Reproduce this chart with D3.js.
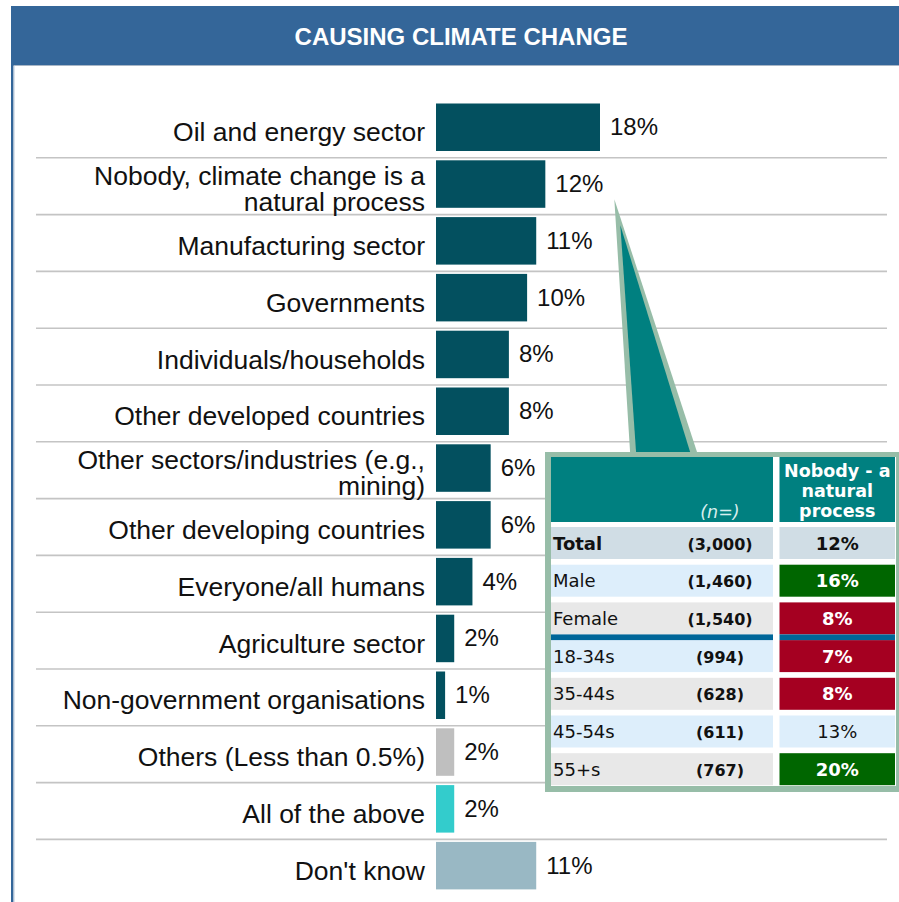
<!DOCTYPE html>
<html>
<head>
<meta charset="utf-8">
<script src="https://cdn.jsdelivr.net/npm/d3@7"></script>
<style>
  html, body { margin: 0; padding: 0; background: #ffffff; }
  svg { display: block; }
</style>
</head>
<body>
<div id="chart"></div>
<script>
// ---- data ----
const title = "CAUSING CLIMATE CHANGE";

const categories = [
  "Oil and energy sector",
  "Nobody, climate change is a\nnatural process",
  "Manufacturing sector",
  "Governments",
  "Individuals/households",
  "Other developed countries",
  "Other sectors/industries (e.g.,\nmining)",
  "Other developing countries",
  "Everyone/all humans",
  "Agriculture sector",
  "Non-government organisations",
  "Others (Less than 0.5%)",
  "All of the above",
  "Don't know"
];
const values = [18, 12, 11, 10, 8, 8, 6, 6, 4, 2, 1, 2, 2, 11];
const groups = ["cause", "cause", "cause", "cause", "cause", "cause", "cause",
                "cause", "cause", "cause", "cause", "other", "all", "dk"];

// breakdown of "Nobody - a natural process"
const highlightCategory = categories[1];
const tableHeader = ["Nobody - a", "natural", "process"];
const tableRows = ["Total", "Male", "Female", "18-34s", "35-44s", "45-54s", "55+s"];
const tableN = [3000, 1460, 1540, 994, 628, 611, 767];
const tableValues = [12, 16, 8, 7, 8, 13, 20];
const tableSig = ["total", "higher", "lower", "lower", "lower", "same", "higher"];

// ---- layout ----
const W = 899, H = 902;
const svg = d3.select("#chart").append("svg")
  .attr("width", W).attr("height", H)
  .attr("viewBox", `0 0 ${W} ${H}`);

const sans = "'Liberation Sans', Arial, Helvetica, sans-serif";
const verd = "'DejaVu Sans', Verdana, sans-serif";

// header band
svg.append("rect").attr("x", 11).attr("y", 6).attr("width", W - 11).attr("height", 59)
  .attr("fill", "#346699");
svg.append("line").attr("x1", 11).attr("x2", W).attr("y1", 65.5).attr("y2", 65.5)
  .attr("stroke", "#a8b6c6").attr("stroke-width", 1);
svg.append("text").attr("x", 461).attr("y", 44.5)
  .attr("text-anchor", "middle").attr("fill", "#ffffff")
  .attr("font-family", sans).attr("font-weight", "bold").attr("font-size", 24)
  .text(title);

// left frame edge
svg.append("rect").attr("x", 11).attr("y", 65).attr("width", 2.5).attr("height", H - 65)
  .attr("fill", "#346699");
svg.append("line").attr("x1", 14).attr("x2", 14).attr("y1", 66).attr("y2", H)
  .attr("stroke", "#b9c8d8").attr("stroke-width", 1);

// scales
const x = d3.scaleLinear().domain([0, 18]).range([436, 600]);
const y = d3.scaleBand().domain(categories).range([101, 101 + 14 * 56.8]).padding(0);
const color = d3.scaleOrdinal()
  .domain(["cause", "other", "all", "dk"])
  .range(["#03505f", "#bfbfbf", "#33cccc", "#99b8c4"]);

const data = categories.map((c, i) => ({ c, v: values[i], g: groups[i] }));

// row separators
svg.append("g").selectAll("line")
  .data(categories.slice(1))
  .join("line")
  .attr("x1", 36).attr("x2", 887)
  .attr("y1", d => y(d)).attr("y2", d => y(d))
  .attr("stroke", "#c4c4c4").attr("stroke-width", 1.6);

// bars
const barOff = 2.5, barH = 47.5;
svg.append("g").selectAll("rect")
  .data(data)
  .join("rect")
  .attr("x", x(0))
  .attr("y", d => y(d.c) + barOff)
  .attr("width", d => x(d.v) - x(0))
  .attr("height", barH)
  .attr("fill", d => color(d.g));

// value labels
svg.append("g").selectAll("text")
  .data(data)
  .join("text")
  .attr("x", d => x(d.v) + 10)
  .attr("y", d => y(d.c) + barOff + barH / 2 + 8)
  .attr("font-family", sans).attr("font-size", 24).attr("fill", "#111")
  .text(d => `${d.v}%`);

// category labels
const catG = svg.append("g");
data.forEach(d => {
  const lines = d.c.split("\n");
  const cy = y(d.c) + y.bandwidth() / 2;
  const t = catG.append("text")
    .attr("text-anchor", "end")
    .attr("font-family", sans).attr("font-size", 26.5).attr("fill", "#111");
  lines.forEach((ln, i) => {
    t.append("tspan").attr("x", 425)
      .attr("y", cy + 12 - (lines.length - 1) * 13 + i * 26)
      .text(ln);
  });
});

// ---- breakdown table with callout ----
const tb = { x0: 545, y0: 452, x1: 899, y1: 792 };
const colSplit = 773, colGap = 6.5;
const rightX0 = colSplit + colGap, rightX1 = 895;

// callout pointer from the highlighted bar to the table
const hv = values[categories.indexOf(highlightCategory)];
const tipX = x(hv) + 69, tipY = y(highlightCategory) + y.bandwidth() / 2 + 13;
svg.append("path")
  .attr("d", `M${tipX},${tipY} L${tipX + 16},${tb.y0 + 4} L${tipX + 84},${tb.y0 + 4} Z`)
  .attr("fill", "#97bda8");
svg.append("path")
  .attr("d", `M${tipX + 6},${tipY + 26} L${tipX + 22},${tb.y0 + 4} L${tipX + 77},${tb.y0 + 4} Z`)
  .attr("fill", "#008080");

// frame
svg.append("rect").attr("x", tb.x0).attr("y", tb.y0)
  .attr("width", tb.x1 - tb.x0).attr("height", tb.y1 - tb.y0)
  .attr("fill", "#97bda8");
svg.append("rect").attr("x", tb.x0 + 6).attr("y", tb.y0 + 5)
  .attr("width", rightX1 + 1 - (tb.x0 + 6)).attr("height", tb.y1 - 6 - (tb.y0 + 5))
  .attr("fill", "#ffffff");

// header cells
const headTop = tb.y0 + 5, headBot = 522;
svg.append("rect").attr("x", tb.x0 + 6).attr("y", headTop)
  .attr("width", colSplit - (tb.x0 + 6)).attr("height", headBot - headTop)
  .attr("fill", "#008080");
svg.append("rect").attr("x", rightX0).attr("y", headTop)
  .attr("width", rightX1 - rightX0).attr("height", headBot - headTop)
  .attr("fill", "#008080");
svg.append("text").attr("x", 720).attr("y", 518)
  .attr("text-anchor", "middle").attr("fill", "#d8eeee")
  .attr("font-family", verd).attr("font-style", "italic").attr("font-size", 17.5)
  .text("(n=)");
const midRight = (rightX0 + rightX1) / 2;
svg.append("g").selectAll("text")
  .data(tableHeader)
  .join("text")
  .attr("x", midRight)
  .attr("y", (d, i) => 477 + i * 20)
  .attr("text-anchor", "middle").attr("fill", "#ffffff")
  .attr("font-family", verd).attr("font-weight", "bold").attr("font-size", 17.5)
  .text(d => d);

// body rows
const ty = d3.scaleBand().domain(tableRows)
  .range([527, 527 + 6 * 37.7 + 32]).paddingInner(5.7 / 37.7).paddingOuter(0);
const rowFill = (i) => i === 0 ? "#d0dde5" : (i % 2 === 1 ? "#ddeefb" : "#e8e8e8");
const sigFill = d3.scaleOrdinal()
  .domain(["higher", "lower"]).range(["#006600", "#a50021"]);

const rows = tableRows.map((r, i) => ({ r, n: tableN[i], v: tableValues[i], s: tableSig[i], i }));
const rowG = svg.append("g").selectAll("g").data(rows).join("g");

rowG.append("rect")
  .attr("x", tb.x0 + 6).attr("y", d => ty(d.r))
  .attr("width", colSplit - (tb.x0 + 6)).attr("height", ty.bandwidth())
  .attr("fill", d => rowFill(d.i));
rowG.append("rect")
  .attr("x", rightX0).attr("y", d => ty(d.r))
  .attr("width", rightX1 - rightX0).attr("height", ty.bandwidth())
  .attr("fill", d => (d.s === "higher" || d.s === "lower") ? sigFill(d.s) : rowFill(d.i));

rowG.append("text")
  .attr("x", 553).attr("y", d => ty(d.r) + ty.bandwidth() / 2 + 6.5)
  .attr("font-family", verd).attr("font-size", 18)
  .attr("font-weight", d => d.i === 0 ? "bold" : "normal")
  .attr("fill", "#111")
  .text(d => d.r);
rowG.append("text")
  .attr("x", 720).attr("y", d => ty(d.r) + ty.bandwidth() / 2 + 6.5)
  .attr("text-anchor", "middle")
  .attr("font-family", verd).attr("font-size", 16).attr("font-weight", "bold")
  .attr("fill", "#111")
  .text(d => `(${d3.format(",")(d.n)})`);
rowG.append("text")
  .attr("x", midRight).attr("y", d => ty(d.r) + ty.bandwidth() / 2 + 6.5)
  .attr("text-anchor", "middle")
  .attr("font-family", verd).attr("font-size", 18)
  .attr("font-weight", d => d.s === "same" ? "normal" : "bold")
  .attr("fill", d => (d.s === "higher" || d.s === "lower") ? "#ffffff" : "#111")
  .text(d => `${d.v}%`);

// divider between gender and age groups
const divY = ty("Female") + ty.bandwidth();
const divH = ty("18-34s") - divY;
svg.append("rect").attr("x", tb.x0 + 6).attr("y", divY)
  .attr("width", colSplit - (tb.x0 + 6)).attr("height", divH).attr("fill", "#006699");
svg.append("rect").attr("x", rightX0).attr("y", divY)
  .attr("width", rightX1 - rightX0).attr("height", divH).attr("fill", "#006699");
</script>
</body>
</html>
